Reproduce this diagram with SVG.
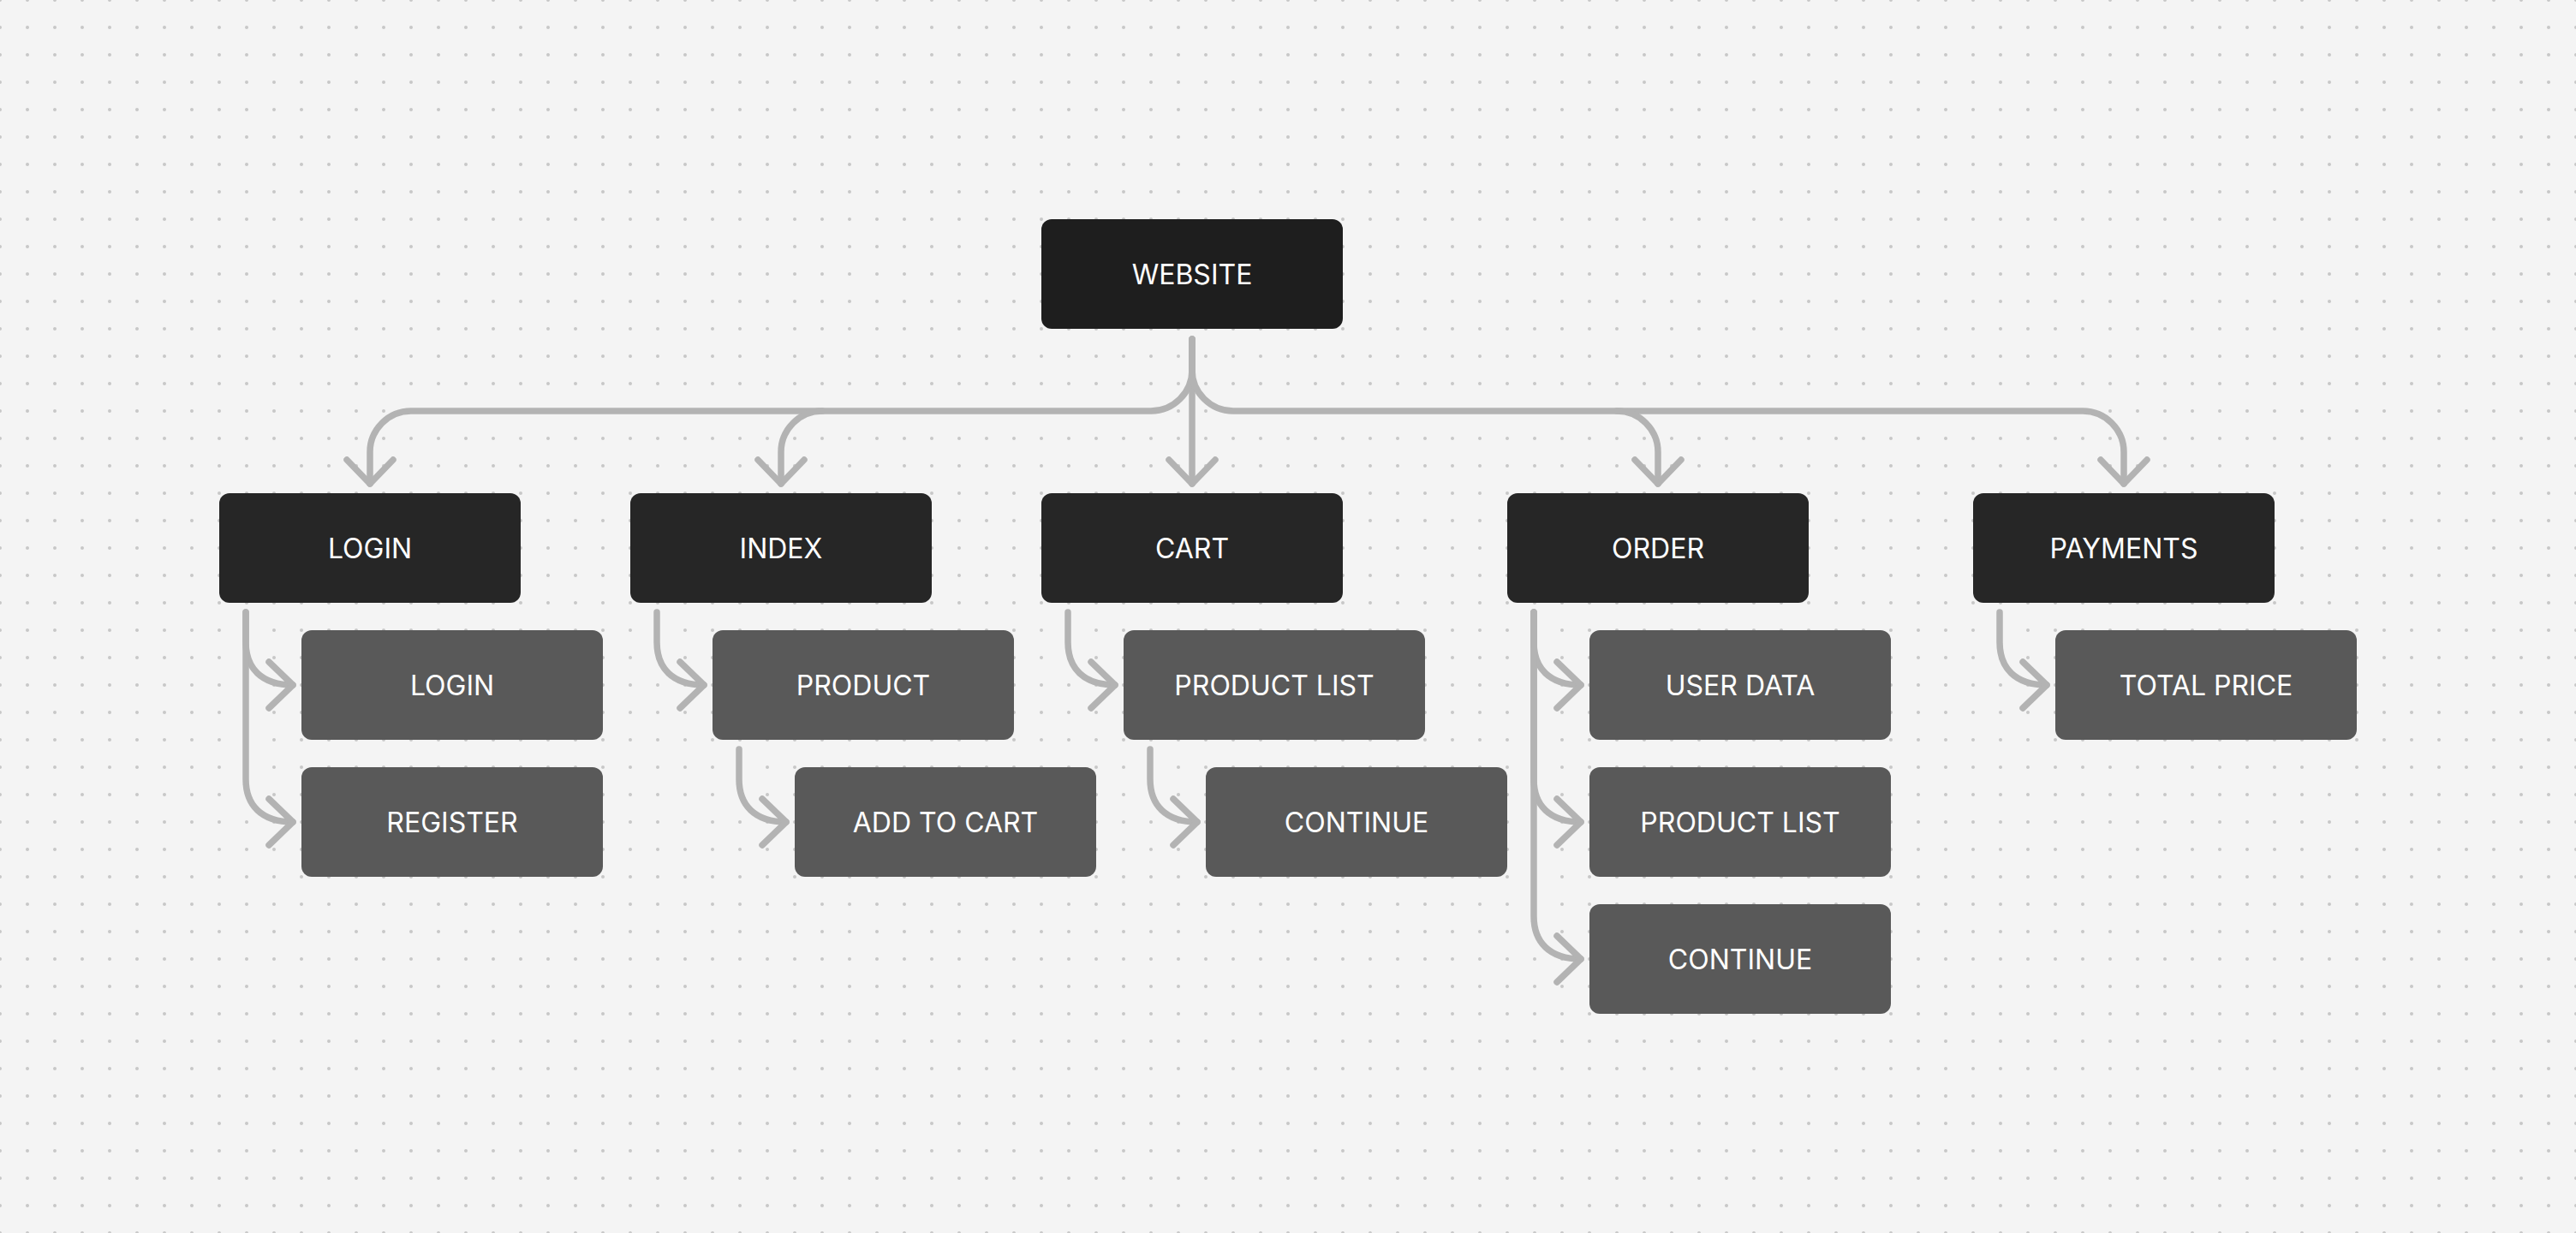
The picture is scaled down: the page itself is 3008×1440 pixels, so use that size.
<svg xmlns="http://www.w3.org/2000/svg" width="3008" height="1440" viewBox="0 0 3008 1440">
<style>
.root{fill:#1e1e1e}
.l1{fill:#262626}
.l2{fill:#595959}
.t{font-family:Inter,"Liberation Sans",sans-serif;font-size:32px;fill:#ffffff;text-anchor:middle}
.c{fill:none;stroke:#b3b3b3;stroke-width:7.5;stroke-linecap:round;stroke-linejoin:round}
</style>
<defs>
<pattern id="dots" x="-16" y="-16" width="32" height="32" patternUnits="userSpaceOnUse">
<circle cx="16" cy="16" r="2" fill="#c8c8c8"/>
</pattern>
<marker id="chev" markerUnits="userSpaceOnUse" viewBox="-40 -40 50 80" markerWidth="50" markerHeight="80" refX="0" refY="0" orient="auto">
<path d="M-28 -27 L0 0 L-28 27" fill="none" stroke="#b3b3b3" stroke-width="7.5" stroke-linecap="round" stroke-linejoin="round"/>
</marker>
</defs>
<rect width="3008" height="1440" fill="#f4f4f4"/>
<rect width="3008" height="1440" fill="url(#dots)"/>

<g id="connectors">
<path class="c" d="M1392 396 V565" marker-end="url(#chev)"/>
<path class="c" d="M1392 396 V432 A48 48 0 0 1 1344 480 H480 A48 48 0 0 0 432 528 V565" marker-end="url(#chev)"/>
<path class="c" d="M960 480 A48 48 0 0 0 912 528 V565" marker-end="url(#chev)"/>
<path class="c" d="M1392 396 V432 A48 48 0 0 0 1440 480 H2432 A48 48 0 0 1 2480 528 V565" marker-end="url(#chev)"/>
<path class="c" d="M1888 480 A48 48 0 0 1 1936 528 V565" marker-end="url(#chev)"/>

<path class="c" d="M287 715 V750 C287 780 305 800 342 800" marker-end="url(#chev)"/>
<path class="c" d="M287 715 V910 C287 940 305 960 342 960" marker-end="url(#chev)"/>
<path class="c" d="M767 715 V750 C767 780 785 800 822 800" marker-end="url(#chev)"/>
<path class="c" d="M863 875 V910 C863 940 881 960 918 960" marker-end="url(#chev)"/>
<path class="c" d="M1247 715 V750 C1247 780 1265 800 1302 800" marker-end="url(#chev)"/>
<path class="c" d="M1343 875 V910 C1343 940 1361 960 1398 960" marker-end="url(#chev)"/>
<path class="c" d="M1791 715 V750 C1791 780 1809 800 1846 800" marker-end="url(#chev)"/>
<path class="c" d="M1791 715 V910 C1791 940 1809 960 1846 960" marker-end="url(#chev)"/>
<path class="c" d="M1791 715 V1070 C1791 1100 1809 1120 1846 1120" marker-end="url(#chev)"/>
<path class="c" d="M2335 715 V750 C2335 780 2353 800 2390 800" marker-end="url(#chev)"/>
</g>

<g id="website"><rect class="root" x="1216" y="256" width="352" height="128" rx="12"/><text class="t" x="1392" y="331.5">WEBSITE</text></g>

<g id="login"><rect class="l1" x="256" y="576" width="352" height="128" rx="12"/><text class="t" x="432" y="651.5">LOGIN</text></g>
<g id="index"><rect class="l1" x="736" y="576" width="352" height="128" rx="12"/><text class="t" x="912" y="651.5">INDEX</text></g>
<g id="cart"><rect class="l1" x="1216" y="576" width="352" height="128" rx="12"/><text class="t" x="1392" y="651.5">CART</text></g>
<g id="order"><rect class="l1" x="1760" y="576" width="352" height="128" rx="12"/><text class="t" x="1936" y="651.5">ORDER</text></g>
<g id="payments"><rect class="l1" x="2304" y="576" width="352" height="128" rx="12"/><text class="t" x="2480" y="651.5">PAYMENTS</text></g>

<g id="login-login"><rect class="l2" x="352" y="736" width="352" height="128" rx="12"/><text class="t" x="528" y="811.5">LOGIN</text></g>
<g id="login-register"><rect class="l2" x="352" y="896" width="352" height="128" rx="12"/><text class="t" x="528" y="971.5">REGISTER</text></g>
<g id="index-product"><rect class="l2" x="832" y="736" width="352" height="128" rx="12"/><text class="t" x="1008" y="811.5">PRODUCT</text></g>
<g id="product-addtocart"><rect class="l2" x="928" y="896" width="352" height="128" rx="12"/><text class="t" x="1104" y="971.5">ADD TO CART</text></g>
<g id="cart-productlist"><rect class="l2" x="1312" y="736" width="352" height="128" rx="12"/><text class="t" x="1488" y="811.5">PRODUCT LIST</text></g>
<g id="productlist-continue"><rect class="l2" x="1408" y="896" width="352" height="128" rx="12"/><text class="t" x="1584" y="971.5">CONTINUE</text></g>
<g id="order-userdata"><rect class="l2" x="1856" y="736" width="352" height="128" rx="12"/><text class="t" x="2032" y="811.5">USER DATA</text></g>
<g id="order-productlist"><rect class="l2" x="1856" y="896" width="352" height="128" rx="12"/><text class="t" x="2032" y="971.5">PRODUCT LIST</text></g>
<g id="order-continue"><rect class="l2" x="1856" y="1056" width="352" height="128" rx="12"/><text class="t" x="2032" y="1131.5">CONTINUE</text></g>
<g id="payments-totalprice"><rect class="l2" x="2400" y="736" width="352" height="128" rx="12"/><text class="t" x="2576" y="811.5">TOTAL PRICE</text></g>
</svg>
